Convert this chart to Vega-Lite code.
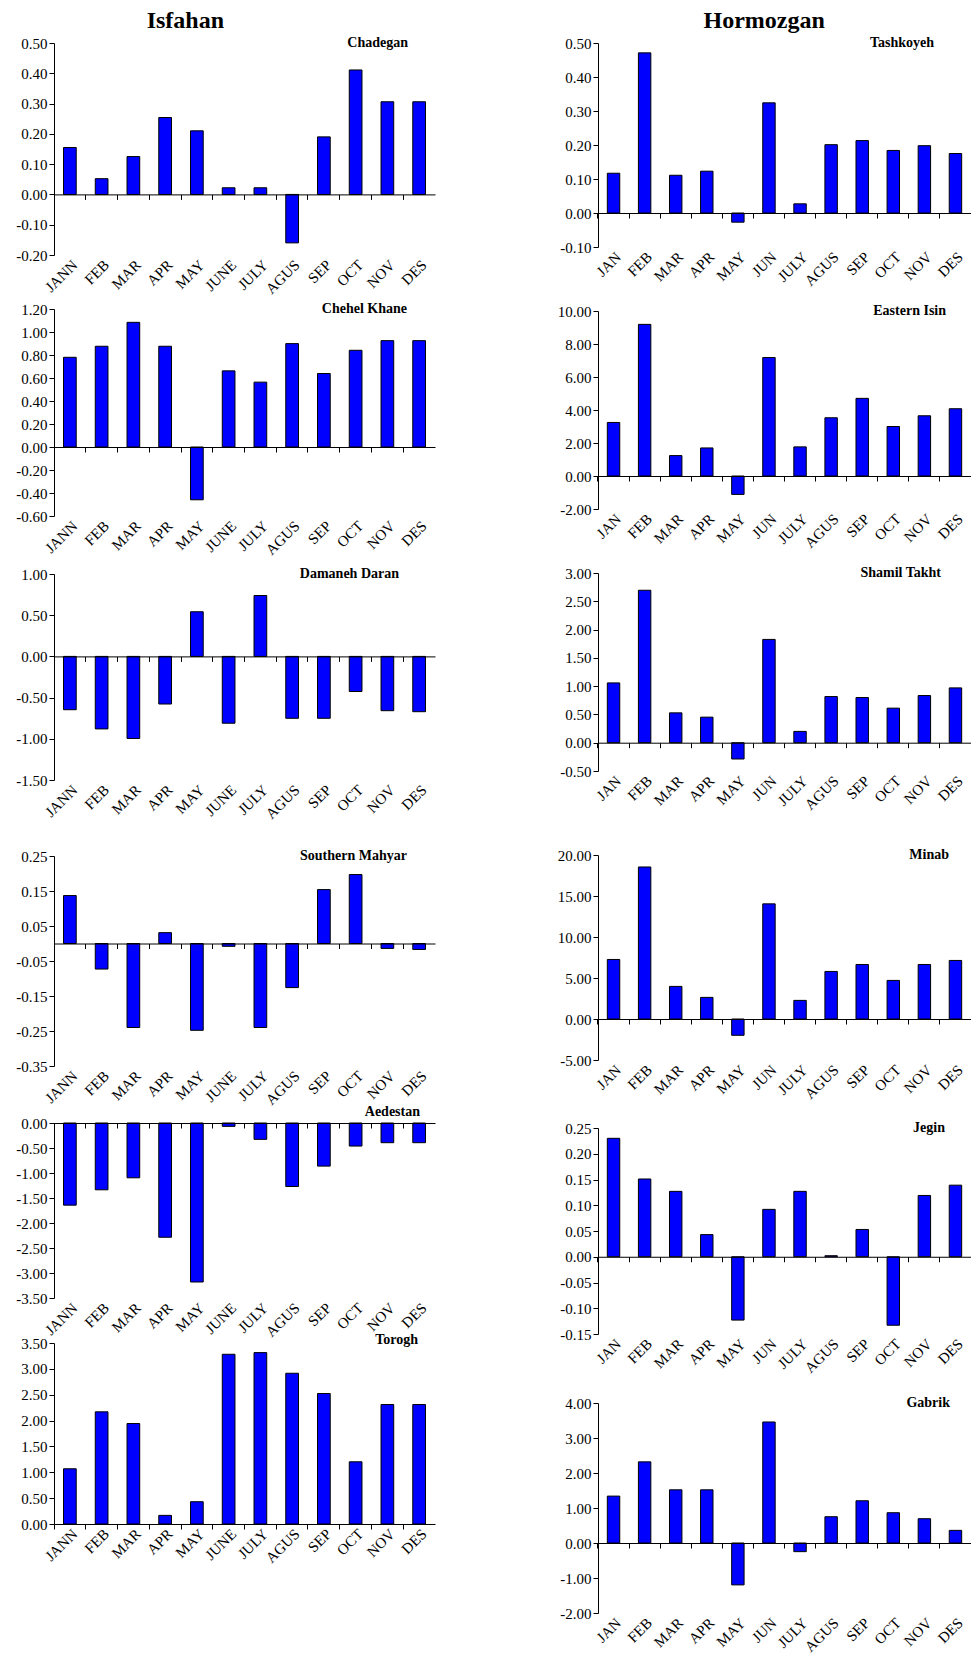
{
  "$schema": "https://vega.github.io/schema/vega-lite/v6.json",
  "padding": {"left": 15, "top": 8, "right": 0, "bottom": 0},
  "background": "#ffffff",
  "data": {"values": [
    {"s":"Chadegan","m":"JANN","v":0.155},{"s":"Chadegan","m":"FEB","v":0.052},{"s":"Chadegan","m":"MAR","v":0.125},{"s":"Chadegan","m":"APR","v":0.254},{"s":"Chadegan","m":"MAY","v":0.21},{"s":"Chadegan","m":"JUNE","v":0.022},{"s":"Chadegan","m":"JULY","v":0.022},{"s":"Chadegan","m":"AGUS","v":-0.16},{"s":"Chadegan","m":"SEP","v":0.19},{"s":"Chadegan","m":"OCT","v":0.411},{"s":"Chadegan","m":"NOV","v":0.306},{"s":"Chadegan","m":"DES","v":0.306},
    {"s":"Chehel Khane","m":"JANN","v":0.78},{"s":"Chehel Khane","m":"FEB","v":0.876},{"s":"Chehel Khane","m":"MAR","v":1.084},{"s":"Chehel Khane","m":"APR","v":0.876},{"s":"Chehel Khane","m":"MAY","v":-0.459},{"s":"Chehel Khane","m":"JUNE","v":0.662},{"s":"Chehel Khane","m":"JULY","v":0.564},{"s":"Chehel Khane","m":"AGUS","v":0.899},{"s":"Chehel Khane","m":"SEP","v":0.639},{"s":"Chehel Khane","m":"OCT","v":0.841},{"s":"Chehel Khane","m":"NOV","v":0.925},{"s":"Chehel Khane","m":"DES","v":0.925},
    {"s":"Damaneh Daran","m":"JANN","v":-0.647},{"s":"Damaneh Daran","m":"FEB","v":-0.88},{"s":"Damaneh Daran","m":"MAR","v":-0.996},{"s":"Damaneh Daran","m":"APR","v":-0.578},{"s":"Damaneh Daran","m":"MAY","v":0.542},{"s":"Damaneh Daran","m":"JUNE","v":-0.811},{"s":"Damaneh Daran","m":"JULY","v":0.739},{"s":"Damaneh Daran","m":"AGUS","v":-0.751},{"s":"Damaneh Daran","m":"SEP","v":-0.751},{"s":"Damaneh Daran","m":"OCT","v":-0.426},{"s":"Damaneh Daran","m":"NOV","v":-0.659},{"s":"Damaneh Daran","m":"DES","v":-0.671},
    {"s":"Southern Mahyar","m":"JANN","v":0.137},{"s":"Southern Mahyar","m":"FEB","v":-0.073},{"s":"Southern Mahyar","m":"MAR","v":-0.24},{"s":"Southern Mahyar","m":"APR","v":0.031},{"s":"Southern Mahyar","m":"MAY","v":-0.248},{"s":"Southern Mahyar","m":"JUNE","v":-0.008},{"s":"Southern Mahyar","m":"JULY","v":-0.24},{"s":"Southern Mahyar","m":"AGUS","v":-0.126},{"s":"Southern Mahyar","m":"SEP","v":0.154},{"s":"Southern Mahyar","m":"OCT","v":0.197},{"s":"Southern Mahyar","m":"NOV","v":-0.014},{"s":"Southern Mahyar","m":"DES","v":-0.017},
    {"s":"Aedestan","m":"JANN","v":-1.643},{"s":"Aedestan","m":"FEB","v":-1.336},{"s":"Aedestan","m":"MAR","v":-1.096},{"s":"Aedestan","m":"APR","v":-2.285},{"s":"Aedestan","m":"MAY","v":-3.18},{"s":"Aedestan","m":"JUNE","v":-0.067},{"s":"Aedestan","m":"JULY","v":-0.327},{"s":"Aedestan","m":"AGUS","v":-1.27},{"s":"Aedestan","m":"SEP","v":-0.862},{"s":"Aedestan","m":"OCT","v":-0.461},{"s":"Aedestan","m":"NOV","v":-0.394},{"s":"Aedestan","m":"DES","v":-0.394},
    {"s":"Torogh","m":"JANN","v":1.068},{"s":"Torogh","m":"FEB","v":2.169},{"s":"Torogh","m":"MAR","v":1.943},{"s":"Torogh","m":"APR","v":0.167},{"s":"Torogh","m":"MAY","v":0.431},{"s":"Torogh","m":"JUNE","v":3.282},{"s":"Torogh","m":"JULY","v":3.314},{"s":"Torogh","m":"AGUS","v":2.915},{"s":"Torogh","m":"SEP","v":2.523},{"s":"Torogh","m":"OCT","v":1.203},{"s":"Torogh","m":"NOV","v":2.31},{"s":"Torogh","m":"DES","v":2.31},
    {"s":"Tashkoyeh","m":"JAN","v":0.117},{"s":"Tashkoyeh","m":"FEB","v":0.471},{"s":"Tashkoyeh","m":"MAR","v":0.111},{"s":"Tashkoyeh","m":"APR","v":0.123},{"s":"Tashkoyeh","m":"MAY","v":-0.027},{"s":"Tashkoyeh","m":"JUN","v":0.324},{"s":"Tashkoyeh","m":"JULY","v":0.027},{"s":"Tashkoyeh","m":"AGUS","v":0.201},{"s":"Tashkoyeh","m":"SEP","v":0.213},{"s":"Tashkoyeh","m":"OCT","v":0.184},{"s":"Tashkoyeh","m":"NOV","v":0.198},{"s":"Tashkoyeh","m":"DES","v":0.175},
    {"s":"Eastern Isin","m":"JAN","v":3.245},{"s":"Eastern Isin","m":"FEB","v":9.19},{"s":"Eastern Isin","m":"MAR","v":1.237},{"s":"Eastern Isin","m":"APR","v":1.7},{"s":"Eastern Isin","m":"MAY","v":-1.116},{"s":"Eastern Isin","m":"JUN","v":7.18},{"s":"Eastern Isin","m":"JULY","v":1.765},{"s":"Eastern Isin","m":"AGUS","v":3.53},{"s":"Eastern Isin","m":"SEP","v":4.706},{"s":"Eastern Isin","m":"OCT","v":3.0},{"s":"Eastern Isin","m":"NOV","v":3.65},{"s":"Eastern Isin","m":"DES","v":4.077},
    {"s":"Shamil Takht","m":"JAN","v":1.057},{"s":"Shamil Takht","m":"FEB","v":2.695},{"s":"Shamil Takht","m":"MAR","v":0.528},{"s":"Shamil Takht","m":"APR","v":0.452},{"s":"Shamil Takht","m":"MAY","v":-0.288},{"s":"Shamil Takht","m":"JUN","v":1.826},{"s":"Shamil Takht","m":"JULY","v":0.2},{"s":"Shamil Takht","m":"AGUS","v":0.816},{"s":"Shamil Takht","m":"SEP","v":0.799},{"s":"Shamil Takht","m":"OCT","v":0.611},{"s":"Shamil Takht","m":"NOV","v":0.834},{"s":"Shamil Takht","m":"DES","v":0.969},
    {"s":"Minab","m":"JAN","v":7.26},{"s":"Minab","m":"FEB","v":18.54},{"s":"Minab","m":"MAR","v":3.976},{"s":"Minab","m":"APR","v":2.637},{"s":"Minab","m":"MAY","v":-1.988},{"s":"Minab","m":"JUN","v":14.04},{"s":"Minab","m":"JULY","v":2.27},{"s":"Minab","m":"AGUS","v":5.8},{"s":"Minab","m":"SEP","v":6.65},{"s":"Minab","m":"OCT","v":4.706},{"s":"Minab","m":"NOV","v":6.65},{"s":"Minab","m":"DES","v":7.14},
    {"s":"Jegin","m":"JAN","v":0.23},{"s":"Jegin","m":"FEB","v":0.151},{"s":"Jegin","m":"MAR","v":0.127},{"s":"Jegin","m":"APR","v":0.043},{"s":"Jegin","m":"MAY","v":-0.123},{"s":"Jegin","m":"JUN","v":0.092},{"s":"Jegin","m":"JULY","v":0.127},{"s":"Jegin","m":"AGUS","v":0.002},{"s":"Jegin","m":"SEP","v":0.053},{"s":"Jegin","m":"OCT","v":-0.133},{"s":"Jegin","m":"NOV","v":0.119},{"s":"Jegin","m":"DES","v":0.139},
    {"s":"Gabrik","m":"JAN","v":1.34},{"s":"Gabrik","m":"FEB","v":2.318},{"s":"Gabrik","m":"MAR","v":1.52},{"s":"Gabrik","m":"APR","v":1.52},{"s":"Gabrik","m":"MAY","v":-1.197},{"s":"Gabrik","m":"JUN","v":3.458},{"s":"Gabrik","m":"JULY","v":-0.247},{"s":"Gabrik","m":"AGUS","v":0.751},{"s":"Gabrik","m":"SEP","v":1.207},{"s":"Gabrik","m":"OCT","v":0.865},{"s":"Gabrik","m":"NOV","v":0.694},{"s":"Gabrik","m":"DES","v":0.361}
  ]},
  "hconcat": [
    {
      "title": {"text": "Isfahan", "fontSize": 24, "anchor": "middle", "dx": -40, "offset": 3},
      "spacing": -8,
      "vconcat": [
        {
          "width": 381, "height": 212,
          "title": {"text": "Chadegan", "anchor": "end", "dx": -27, "offset": -4, "dy": 16.5, "baseline": "middle"},
          "transform": [{"filter": "datum.s === 'Chadegan'"}],
          "layer": [
            {"mark": {"type": "bar", "fill": "#0000ff", "stroke": "#000000", "strokeWidth": 1},
             "encoding": {
               "x": {"field": "m", "type": "nominal", "sort": null, "scale": {"paddingInner": 0.6, "paddingOuter": 0.3},
                     "axis": {"orient": "bottom", "offset": -60.6, "labels": false, "domain": true, "ticks": true, "bandPosition": -0.75, "title": null, "zindex": 1}},
               "y": {"field": "v", "type": "quantitative", "scale": {"domain": [-0.2, 0.5], "nice": false},
                     "axis": {"values": [-0.2,-0.1,0,0.1,0.2,0.3,0.4,0.5], "tickCount": 30, "labelOverlap": false, "labelExpr": "replace(format(datum.value, '.2f'), '\u2212', '-')", "title": null}}
             }},
            {"mark": {"type": "bar", "opacity": 0},
             "encoding": {
               "x": {"field": "m", "type": "nominal", "sort": null,
                     "axis": {"orient": "bottom", "labelAngle": -45, "domain": false, "ticks": false, "title": " ", "titleFontSize": 10, "titlePadding": 2}},
               "y": {"field": "v", "type": "quantitative"}
             }}
          ],
          "resolve": {"axis": {"x": "independent"}}
        },
        {
          "width": 381, "height": 207,
          "title": {"text": "Chehel Khane", "anchor": "end", "dx": -28, "offset": -4, "dy": 16.5, "baseline": "middle"},
          "transform": [{"filter": "datum.s === 'Chehel Khane'"}],
          "layer": [
            {"mark": {"type": "bar", "fill": "#0000ff", "stroke": "#000000", "strokeWidth": 1},
             "encoding": {
               "x": {"field": "m", "type": "nominal", "sort": null, "scale": {"paddingInner": 0.6, "paddingOuter": 0.3},
                     "axis": {"orient": "bottom", "offset": -69, "labels": false, "domain": true, "ticks": true, "bandPosition": -0.75, "title": null, "zindex": 1}},
               "y": {"field": "v", "type": "quantitative", "scale": {"domain": [-0.6, 1.2], "nice": false},
                     "axis": {"values": [-0.6,-0.4,-0.2,0,0.2,0.4,0.6,0.8,1,1.2], "tickCount": 30, "labelOverlap": false, "labelExpr": "replace(format(datum.value, '.2f'), '\u2212', '-')", "title": null}}
             }},
            {"mark": {"type": "bar", "opacity": 0},
             "encoding": {
               "x": {"field": "m", "type": "nominal", "sort": null,
                     "axis": {"orient": "bottom", "labelAngle": -45, "domain": false, "ticks": false, "title": " ", "titleFontSize": 10, "titlePadding": 6}},
               "y": {"field": "v", "type": "quantitative"}
             }}
          ],
          "resolve": {"axis": {"x": "independent"}}
        },
        {
          "width": 381, "height": 206,
          "title": {"text": "Damaneh Daran", "anchor": "end", "dx": -36, "offset": -4, "dy": 16.5, "baseline": "middle"},
          "transform": [{"filter": "datum.s === 'Damaneh Daran'"}],
          "layer": [
            {"mark": {"type": "bar", "fill": "#0000ff", "stroke": "#000000", "strokeWidth": 1},
             "encoding": {
               "x": {"field": "m", "type": "nominal", "sort": null, "scale": {"paddingInner": 0.6, "paddingOuter": 0.3},
                     "axis": {"orient": "bottom", "offset": -123.6, "labels": false, "domain": true, "ticks": true, "bandPosition": -0.75, "title": null, "zindex": 1}},
               "y": {"field": "v", "type": "quantitative", "scale": {"domain": [-1.5, 1], "nice": false},
                     "axis": {"values": [-1.5,-1,-0.5,0,0.5,1], "tickCount": 30, "labelOverlap": false, "labelExpr": "replace(format(datum.value, '.2f'), '\u2212', '-')", "title": null}}
             }},
            {"mark": {"type": "bar", "opacity": 0},
             "encoding": {
               "x": {"field": "m", "type": "nominal", "sort": null,
                     "axis": {"orient": "bottom", "labelAngle": -45, "domain": false, "ticks": false, "title": " ", "titleFontSize": 10, "titlePadding": 24}},
               "y": {"field": "v", "type": "quantitative"}
             }}
          ],
          "resolve": {"axis": {"x": "independent"}}
        },
        {
          "width": 381, "height": 210,
          "title": {"text": "Southern Mahyar", "anchor": "end", "dx": -28, "offset": -4, "dy": 16.5, "baseline": "middle"},
          "transform": [{"filter": "datum.s === 'Southern Mahyar'"}],
          "layer": [
            {"mark": {"type": "bar", "fill": "#0000ff", "stroke": "#000000", "strokeWidth": 1},
             "encoding": {
               "x": {"field": "m", "type": "nominal", "sort": null, "scale": {"paddingInner": 0.6, "paddingOuter": 0.3},
                     "axis": {"orient": "bottom", "offset": -122.5, "labels": false, "domain": true, "ticks": true, "bandPosition": -0.75, "title": null, "zindex": 1}},
               "y": {"field": "v", "type": "quantitative", "scale": {"domain": [-0.35, 0.25], "nice": false},
                     "axis": {"values": [-0.35,-0.25,-0.15,-0.05,0.05,0.15,0.25], "tickCount": 30, "labelOverlap": false, "labelExpr": "replace(format(datum.value, '.2f'), '\u2212', '-')", "title": null}}
             }},
            {"mark": {"type": "bar", "opacity": 0},
             "encoding": {
               "x": {"field": "m", "type": "nominal", "sort": null,
                     "axis": {"orient": "bottom", "labelAngle": -45, "domain": false, "ticks": false, "title": " ", "titleFontSize": 5, "titlePadding": 0}},
               "y": {"field": "v", "type": "quantitative"}
             }}
          ],
          "resolve": {"axis": {"x": "independent"}}
        },
        {
          "width": 381, "height": 175,
          "title": {"text": "Aedestan", "anchor": "end", "dx": -15, "offset": 4, "dy": 14, "baseline": "middle"},
          "transform": [{"filter": "datum.s === 'Aedestan'"}],
          "layer": [
            {"mark": {"type": "bar", "fill": "#0000ff", "stroke": "#000000", "strokeWidth": 1},
             "encoding": {
               "x": {"field": "m", "type": "nominal", "sort": null, "scale": {"paddingInner": 0.6, "paddingOuter": 0.3},
                     "axis": {"orient": "bottom", "offset": -175, "labels": false, "domain": true, "ticks": true, "bandPosition": -0.75, "title": null, "zindex": 1}},
               "y": {"field": "v", "type": "quantitative", "scale": {"domain": [-3.5, 0], "nice": false},
                     "axis": {"values": [-3.5,-3,-2.5,-2,-1.5,-1,-0.5,0], "tickCount": 30, "labelOverlap": false, "labelExpr": "replace(format(datum.value, '.2f'), '\u2212', '-')", "title": null}}
             }},
            {"mark": {"type": "bar", "opacity": 0},
             "encoding": {
               "x": {"field": "m", "type": "nominal", "sort": null,
                     "axis": {"orient": "bottom", "labelAngle": -45, "domain": false, "ticks": false, "title": null}},
               "y": {"field": "v", "type": "quantitative"}
             }}
          ],
          "resolve": {"axis": {"x": "independent"}}
        },
        {
          "width": 381, "height": 181,
          "title": {"text": "Torogh", "anchor": "end", "dx": -17, "offset": -4, "dy": 13.5, "baseline": "middle"},
          "transform": [{"filter": "datum.s === 'Torogh'"}],
          "layer": [
            {"mark": {"type": "bar", "fill": "#0000ff", "stroke": "#000000", "strokeWidth": 1},
             "encoding": {
               "x": {"field": "m", "type": "nominal", "sort": null, "scale": {"paddingInner": 0.6, "paddingOuter": 0.3},
                     "axis": {"orient": "bottom", "offset": 0, "labels": false, "domain": true, "ticks": true, "bandPosition": -0.75, "title": null, "zindex": 1}},
               "y": {"field": "v", "type": "quantitative", "scale": {"domain": [0, 3.5], "nice": false},
                     "axis": {"values": [0,0.5,1,1.5,2,2.5,3,3.5], "tickCount": 30, "labelOverlap": false, "labelExpr": "replace(format(datum.value, '.2f'), '\u2212', '-')", "title": null}}
             }},
            {"mark": {"type": "bar", "opacity": 0},
             "encoding": {
               "x": {"field": "m", "type": "nominal", "sort": null,
                     "axis": {"orient": "bottom", "labelAngle": -45, "domain": false, "ticks": false, "title": null}},
               "y": {"field": "v", "type": "quantitative"}
             }}
          ],
          "resolve": {"axis": {"x": "independent"}}
        }
      ]
    },
    {
      "title": {"text": "Hormozgan", "fontSize": 24, "anchor": "middle", "dx": 0, "offset": 3},
      "spacing": 14,
      "vconcat": [
        {
          "width": 373, "height": 204,
          "title": {"text": "Tashkoyeh", "anchor": "end", "dx": -37, "offset": -4, "dy": 16.5, "baseline": "middle"},
          "transform": [{"filter": "datum.s === 'Tashkoyeh'"}],
          "layer": [
            {"mark": {"type": "bar", "fill": "#0000ff", "stroke": "#000000", "strokeWidth": 1},
             "encoding": {
               "x": {"field": "m", "type": "nominal", "sort": null, "scale": {"paddingInner": 0.6, "paddingOuter": 0.3},
                     "axis": {"orient": "bottom", "offset": -34, "labels": false, "domain": true, "ticks": true, "bandPosition": -0.75, "title": null, "zindex": 1}},
               "y": {"field": "v", "type": "quantitative", "scale": {"domain": [-0.1, 0.5], "nice": false},
                     "axis": {"values": [-0.1,0,0.1,0.2,0.3,0.4,0.5], "tickCount": 30, "labelOverlap": false, "labelExpr": "replace(format(datum.value, '.2f'), '\u2212', '-')", "title": null}}
             }},
            {"mark": {"type": "bar", "opacity": 0},
             "encoding": {
               "x": {"field": "m", "type": "nominal", "sort": null,
                     "axis": {"orient": "bottom", "labelAngle": -45, "domain": false, "ticks": false, "title": null}},
               "y": {"field": "v", "type": "quantitative"}
             }}
          ],
          "resolve": {"axis": {"x": "independent"}}
        },
        {
          "width": 373, "height": 198,
          "title": {"text": "Eastern Isin", "anchor": "end", "dx": -25, "offset": -4, "dy": 16.5, "baseline": "middle"},
          "transform": [{"filter": "datum.s === 'Eastern Isin'"}],
          "layer": [
            {"mark": {"type": "bar", "fill": "#0000ff", "stroke": "#000000", "strokeWidth": 1},
             "encoding": {
               "x": {"field": "m", "type": "nominal", "sort": null, "scale": {"paddingInner": 0.6, "paddingOuter": 0.3},
                     "axis": {"orient": "bottom", "offset": -33, "labels": false, "domain": true, "ticks": true, "bandPosition": -0.75, "title": null, "zindex": 1}},
               "y": {"field": "v", "type": "quantitative", "scale": {"domain": [-2, 10], "nice": false},
                     "axis": {"values": [-2,0,2,4,6,8,10], "tickCount": 30, "labelOverlap": false, "labelExpr": "replace(format(datum.value, '.2f'), '\u2212', '-')", "title": null}}
             }},
            {"mark": {"type": "bar", "opacity": 0},
             "encoding": {
               "x": {"field": "m", "type": "nominal", "sort": null,
                     "axis": {"orient": "bottom", "labelAngle": -45, "domain": false, "ticks": false, "title": null}},
               "y": {"field": "v", "type": "quantitative"}
             }}
          ],
          "resolve": {"axis": {"x": "independent"}}
        },
        {
          "width": 373, "height": 198,
          "title": {"text": "Shamil Takht", "anchor": "end", "dx": -30, "offset": -4, "dy": 16.5, "baseline": "middle"},
          "transform": [{"filter": "datum.s === 'Shamil Takht'"}],
          "layer": [
            {"mark": {"type": "bar", "fill": "#0000ff", "stroke": "#000000", "strokeWidth": 1},
             "encoding": {
               "x": {"field": "m", "type": "nominal", "sort": null, "scale": {"paddingInner": 0.6, "paddingOuter": 0.3},
                     "axis": {"orient": "bottom", "offset": -28.3, "labels": false, "domain": true, "ticks": true, "bandPosition": -0.75, "title": null, "zindex": 1}},
               "y": {"field": "v", "type": "quantitative", "scale": {"domain": [-0.5, 3], "nice": false},
                     "axis": {"values": [-0.5,0,0.5,1,1.5,2,2.5,3], "tickCount": 30, "labelOverlap": false, "labelExpr": "replace(format(datum.value, '.2f'), '\u2212', '-')", "title": null}}
             }},
            {"mark": {"type": "bar", "opacity": 0},
             "encoding": {
               "x": {"field": "m", "type": "nominal", "sort": null,
                     "axis": {"orient": "bottom", "labelAngle": -45, "domain": false, "ticks": false, "title": " ", "titleFontSize": 10, "titlePadding": 10.5}},
               "y": {"field": "v", "type": "quantitative"}
             }}
          ],
          "resolve": {"axis": {"x": "independent"}}
        },
        {
          "width": 373, "height": 205,
          "title": {"text": "Minab", "anchor": "end", "dx": -22, "offset": -4, "dy": 16.5, "baseline": "middle"},
          "transform": [{"filter": "datum.s === 'Minab'"}],
          "layer": [
            {"mark": {"type": "bar", "fill": "#0000ff", "stroke": "#000000", "strokeWidth": 1},
             "encoding": {
               "x": {"field": "m", "type": "nominal", "sort": null, "scale": {"paddingInner": 0.6, "paddingOuter": 0.3},
                     "axis": {"orient": "bottom", "offset": -41, "labels": false, "domain": true, "ticks": true, "bandPosition": -0.75, "title": null, "zindex": 1}},
               "y": {"field": "v", "type": "quantitative", "scale": {"domain": [-5, 20], "nice": false},
                     "axis": {"values": [-5,0,5,10,15,20], "tickCount": 30, "labelOverlap": false, "labelExpr": "replace(format(datum.value, '.2f'), '\u2212', '-')", "title": null}}
             }},
            {"mark": {"type": "bar", "opacity": 0},
             "encoding": {
               "x": {"field": "m", "type": "nominal", "sort": null,
                     "axis": {"orient": "bottom", "labelAngle": -45, "domain": false, "ticks": false, "title": " ", "titleFontSize": 4, "titlePadding": 0}},
               "y": {"field": "v", "type": "quantitative"}
             }}
          ],
          "resolve": {"axis": {"x": "independent"}}
        },
        {
          "width": 373, "height": 206,
          "title": {"text": "Jegin", "anchor": "end", "dx": -26, "offset": -4, "dy": 16.5, "baseline": "middle"},
          "transform": [{"filter": "datum.s === 'Jegin'"}],
          "layer": [
            {"mark": {"type": "bar", "fill": "#0000ff", "stroke": "#000000", "strokeWidth": 1},
             "encoding": {
               "x": {"field": "m", "type": "nominal", "sort": null, "scale": {"paddingInner": 0.6, "paddingOuter": 0.3},
                     "axis": {"orient": "bottom", "offset": -77.25, "labels": false, "domain": true, "ticks": true, "bandPosition": -0.75, "title": null, "zindex": 1}},
               "y": {"field": "v", "type": "quantitative", "scale": {"domain": [-0.15, 0.25], "nice": false},
                     "axis": {"values": [-0.15,-0.1,-0.05,0,0.05,0.1,0.15,0.2,0.25], "tickCount": 30, "labelOverlap": false, "labelExpr": "replace(format(datum.value, '.2f'), '\u2212', '-')", "title": null}}
             }},
            {"mark": {"type": "bar", "opacity": 0},
             "encoding": {
               "x": {"field": "m", "type": "nominal", "sort": null,
                     "axis": {"orient": "bottom", "labelAngle": -45, "domain": false, "ticks": false, "title": " ", "titleFontSize": 5, "titlePadding": 0}},
               "y": {"field": "v", "type": "quantitative"}
             }}
          ],
          "resolve": {"axis": {"x": "independent"}}
        },
        {
          "width": 373, "height": 210,
          "title": {"text": "Gabrik", "anchor": "end", "dx": -21, "offset": -4, "dy": 16.5, "baseline": "middle"},
          "transform": [{"filter": "datum.s === 'Gabrik'"}],
          "layer": [
            {"mark": {"type": "bar", "fill": "#0000ff", "stroke": "#000000", "strokeWidth": 1},
             "encoding": {
               "x": {"field": "m", "type": "nominal", "sort": null, "scale": {"paddingInner": 0.6, "paddingOuter": 0.3},
                     "axis": {"orient": "bottom", "offset": -70, "labels": false, "domain": true, "ticks": true, "bandPosition": -0.75, "title": null, "zindex": 1}},
               "y": {"field": "v", "type": "quantitative", "scale": {"domain": [-2, 4], "nice": false},
                     "axis": {"values": [-2,-1,0,1,2,3,4], "tickCount": 30, "labelOverlap": false, "labelExpr": "replace(format(datum.value, '.2f'), '\u2212', '-')", "title": null}}
             }},
            {"mark": {"type": "bar", "opacity": 0},
             "encoding": {
               "x": {"field": "m", "type": "nominal", "sort": null,
                     "axis": {"orient": "bottom", "labelAngle": -45, "domain": false, "ticks": false, "title": null}},
               "y": {"field": "v", "type": "quantitative"}
             }}
          ],
          "resolve": {"axis": {"x": "independent"}}
        }
      ]
    }
  ],
  "spacing": 122,
  "config": {
    "view": {"stroke": null},
    "font": "Liberation Serif",
    "axis": {"labelFont": "Liberation Serif", "labelFontSize": 15, "labelColor": "#000000", "domainColor": "#000000", "tickColor": "#000000", "grid": false, "tickSize": 5, "labelPadding": 2, "domainWidth": 1, "tickWidth": 1, "labelOverlap": false},
    "title": {"font": "Liberation Serif", "fontSize": 14, "fontWeight": "bold", "color": "#000000"}
  }
}
